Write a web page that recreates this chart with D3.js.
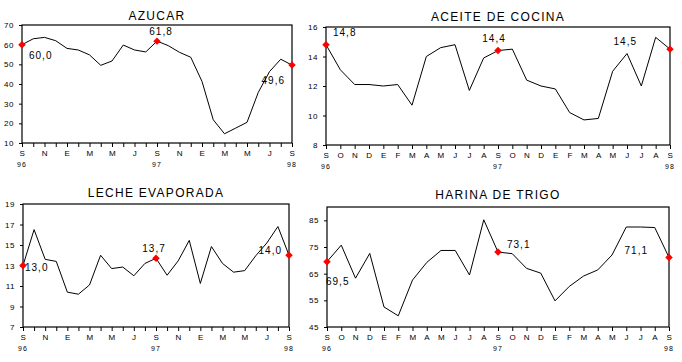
<!DOCTYPE html>
<html lang="es">
  <head>
    <meta charset="UTF-8" />
    <title>Precios</title>
    <script src="https://cdn.jsdelivr.net/npm/d3@7/dist/d3.min.js"></script>
    <style>
      body { margin: 0; background: #fff; }
      text { font-family: 'Liberation Sans', Arial, sans-serif; fill: #000; }
      .title { font-size: 12px; letter-spacing: 1.3px; }
      .tick text { font-size: 8px; letter-spacing: 0.5px; }
      .year { font-size: 7px; letter-spacing: 1px; }
      .lbl { font-size: 10px; letter-spacing: 1px; }
    </style>
  </head>
  <body>
    <div id='app'></div>

    <script>
  // month labels, sep 96 .. sep 98
  const months = ['S','O','N','D','E','F','M','A','M','J','J','A',
                  'S','O','N','D','E','F','M','A','M','J','J','A','S']
  const years = [[0, '96'], [12, '97'], [24, '98']]

  const azucar = [60.0, 63.0, 63.7, 62.0, 58.1, 57.3, 54.8, 49.5, 51.7, 59.8, 57.3, 56.3,
                  61.8, 59.5, 56.1, 53.6, 41.3, 21.8, 14.7, 17.6, 20.5, 35.7, 46.3, 52.6, 49.6]
  const aceite = [14.8, 13.1, 12.1, 12.1, 12.0, 12.1, 10.7, 14.0, 14.6, 14.8, 11.7, 13.9,
                  14.4, 14.5, 12.4, 12.0, 11.8, 10.2, 9.7, 9.8, 13.0, 14.2, 12.0, 15.3, 14.5]
  const leche = [13.0, 16.5, 13.6, 13.4, 10.4, 10.2, 11.1, 14.0, 12.7, 12.85, 12.0, 13.2,
                 13.7, 12.05, 13.45, 15.45, 11.25, 14.85, 13.2, 12.35, 12.5, 13.95, 15.2, 16.8, 14.0]
  const harina = [69.5, 75.7, 63.3, 72.6, 52.5, 49.2, 62.6, 69.2, 73.7, 73.7, 64.5, 85.2,
                  73.1, 72.5, 67.0, 65.2, 54.8, 60.2, 64.1, 66.4, 72.0, 82.5, 82.5, 82.3, 71.1]

  // highlighted points (index)
  const marked = [0, 12, 24]

  const W = 682, H = 362
  const svg = d3.select('#app').append('svg')
    .attr('width', W).attr('height', H)

  const panels = [
    { title: 'AZUCAR', data: azucar, yDomain: [10, 70], yTicks: d3.range(10, 71, 10), everyOther: true,
      box: [22, 292, 25, 143], titleY: 20,
      lblOff: [[7, 11, 'start'], [4, -10, 'middle'], [-7, 15, 'end']] },
    { title: 'ACEITE DE COCINA', data: aceite, yDomain: [8, 16], yTicks: d3.range(8, 17, 2), everyOther: false,
      box: [326, 670, 27, 145], titleY: 21,
      lblOff: [[7, -12, 'start'], [-4, -12, 'middle'], [-33, -8, 'end']] },
    { title: 'LECHE EVAPORADA', data: leche, yDomain: [7, 19], yTicks: d3.range(7, 20, 2), everyOther: true,
      box: [23, 289, 204, 327], titleY: 197,
      lblOff: [[2, 2, 'start'], [-2, -10, 'middle'], [-7, -5, 'end']] },
    { title: 'HARINA DE TRIGO', data: harina, yDomain: [45, 90], yTicks: d3.range(45, 86, 10), everyOther: false,
      box: [327, 669, 207, 327], titleY: 199,
      lblOff: [[-1, 20, 'start'], [9, -8, 'start'], [-21, -7, 'end']] }
  ]

  const fmt = v => d3.format('.1f')(v).replace('.', ',')

  panels.forEach(p => {
    const [x0, x1, y0, y1] = p.box
    const x = d3.scaleLinear().domain([0, months.length - 1]).range([x0, x1])
    const y = d3.scaleLinear().domain(p.yDomain).range([y1, y0])
    const g = svg.append('g')

    g.append('text').attr('class', 'title')
      .attr('x', (x0 + x1) / 2).attr('y', p.titleY)
      .attr('text-anchor', 'middle')
      .text(p.title)

    // x axis
    g.append('g')
      .attr('transform', `translate(0,${y1})`)
      .call(d3.axisBottom(x)
        .tickValues(d3.range(months.length))
        .tickSize(4).tickPadding(3)
        .tickFormat(i => (!p.everyOther || i % 2 === 0) ? months[i] : ''))
      .call(a => a.select('.domain').remove())
      .call(a => a.selectAll('line').attr('stroke', '#000'))

    g.selectAll('.year').data(years).join('text')
      .attr('class', 'year')
      .attr('x', d => x(d[0])).attr('y', y1 + 24)
      .attr('text-anchor', 'middle')
      .text(d => d[1])

    // y axis
    g.append('g')
      .attr('transform', `translate(${x0},0)`)
      .call(d3.axisLeft(y).tickValues(p.yTicks).tickSize(3).tickPadding(5))
      .call(a => a.select('.domain').remove())
      .call(a => a.selectAll('line').attr('stroke', '#000'))

    g.append('rect')
      .attr('x', x0).attr('y', y0)
      .attr('width', x1 - x0).attr('height', y1 - y0)
      .attr('fill', 'none').attr('stroke', '#000').attr('stroke-width', 1.2)

    g.append('path')
      .datum(p.data)
      .attr('fill', 'none').attr('stroke', '#000').attr('stroke-width', 1)
      .attr('d', d3.line().x((d, i) => x(i)).y(d => y(d)))

    g.selectAll('.mk').data(marked).join('path')
      .attr('class', 'mk')
      .attr('transform', i => `translate(${x(i)},${y(p.data[i])}) rotate(45)`)
      .attr('d', d3.symbol(d3.symbolSquare, 28)())
      .attr('fill', '#ff0000')

    g.selectAll('.lbl').data(marked).join('text')
      .attr('class', 'lbl')
      .attr('x', (i, k) => x(i) + p.lblOff[k][0])
      .attr('y', (i, k) => y(p.data[i]) + p.lblOff[k][1])
      .attr('text-anchor', (i, k) => p.lblOff[k][2])
      .attr('dy', '0.35em')
      .text(i => fmt(p.data[i]))
  })
    </script>
  </body>
</html>
